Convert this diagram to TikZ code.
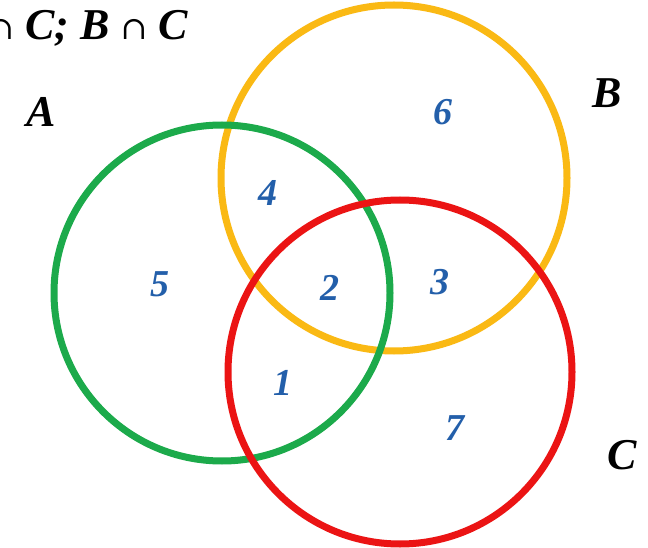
\documentclass[tikz,border=0pt]{standalone}
\usepackage{fontspec}
\setmainfont{Liberation Serif}[BoldItalicFont={Liberation Serif Bold Italic},BoldFont={Liberation Serif Bold},ItalicFont={Liberation Serif Italic}]
\newfontfamily\capfont{DejaVu Serif}
\newcommand{\mycap}{{\capfont\mdseries\upshape\fontsize{32}{40}\selectfont ∩}}
\definecolor{cgreen}{RGB}{28,170,75}
\definecolor{cyellow}{RGB}{250,185,20}
\definecolor{cred}{RGB}{235,20,20}
\definecolor{cblue}{RGB}{35,95,170}
\begin{document}
\begin{tikzpicture}[x=1pt,y=-1pt,
  ring/.style={line width=7pt},
  num/.style={text=cblue,font=\fontsize{38}{42}\selectfont\bfseries\itshape,inner sep=0pt},
  setlab/.style={font=\fontsize{44}{48}\selectfont\bfseries\itshape,inner sep=0pt}]
\useasboundingbox (0,0) rectangle (648,548);
\fill[white] (0,0) rectangle (648,548);
\draw[ring,cyellow] (394,178) circle[radius=173];
\draw[ring,cgreen] (222,293) circle[radius=168];
\draw[ring,cred] (400,372) circle[radius=172];
\node[num] (n6) at (443,112) {6};
\node[num] (n4) at (268,193) {4};
\node[num] (n5) at (160,284) {5};
\node[num] (n2) at (330,288) {2};
\node[num] (n3) at (440,282) {3};
\node[num] (n1) at (283,383) {1};
\node[num] (n7) at (455,428) {7};
\node[setlab] (A) at (41,112) {A};
\node[setlab] (B) at (607,93) {B};
\node[setlab] (C) at (622,455) {C};
\node[setlab,anchor=base east] (title) at (188,40) {\mycap\ C; B \mycap\ C};
\end{tikzpicture}
\end{document}
